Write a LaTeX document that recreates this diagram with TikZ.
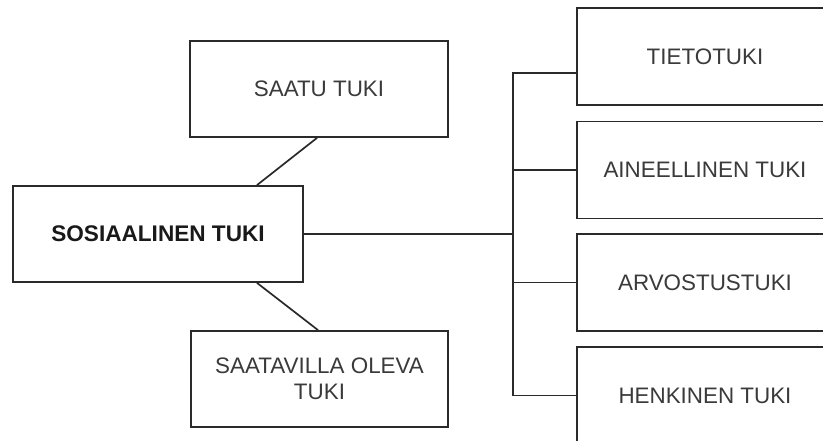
\documentclass[tikz,border=0pt]{standalone}
\usepackage{fontspec}
\setmainfont{Liberation Sans}
\definecolor{linec}{HTML}{2A2A2A}
\definecolor{textc}{HTML}{3A3A3A}
\begin{document}
\begin{tikzpicture}[x=1pt,y=-1pt,
  box/.style={draw=linec, line width=1.8pt, fill=white, inner sep=0pt, align=center,
    text=textc, font=\fontsize{22.4pt}{26pt}\selectfont},
  conn/.style={draw=linec, line width=1.7pt}]
\useasboundingbox (0,0) rectangle (823,441);
\clip (0,0) rectangle (823,441);
\fill[white] (0,0) rectangle (823,441);
% left side
\node[box, minimum width=290pt, minimum height=96pt, text=black!90,
  font=\fontsize{22.6pt}{26pt}\selectfont\bfseries] (main) at (158,234) {SOSIAALINEN TUKI};
\node[box, minimum width=258pt, minimum height=96pt] (saatu) at (319,89) {SAATU TUKI};
\node[box, minimum width=257pt, minimum height=96pt] (saatavilla) at (319.5,379)
  {SAATAVILLA OLEVA\\TUKI};
% right side
\node[box, minimum width=256pt, minimum height=97pt] (t1) at (705,56.5) {TIETOTUKI};
\node[box, minimum width=256pt, minimum height=97pt] (t2) at (705,170) {AINEELLINEN TUKI};
\node[box, minimum width=256pt, minimum height=97pt] (t3) at (705,282.5) {ARVOSTUSTUKI};
\node[box, minimum width=256pt, minimum height=97pt] (t4) at (705,395.5) {HENKINEN TUKI};
\coordinate (bus) at (513,234);
% connectors
\draw[conn] ([xshift=99pt]main.north) -- ([xshift=-2pt]saatu.south);
\draw[conn] ([xshift=99pt]main.south) -- ([xshift=-1.5pt]saatavilla.north);
\draw[conn] (main.east) -- (bus);
\draw[conn] (bus) |- ([yshift=-16.5pt]t1.west);
\draw[conn] (bus) |- (t2.west);
\draw[conn] (bus) |- (t3.west);
\draw[conn] (bus) |- (t4.west);
\end{tikzpicture}
\end{document}
